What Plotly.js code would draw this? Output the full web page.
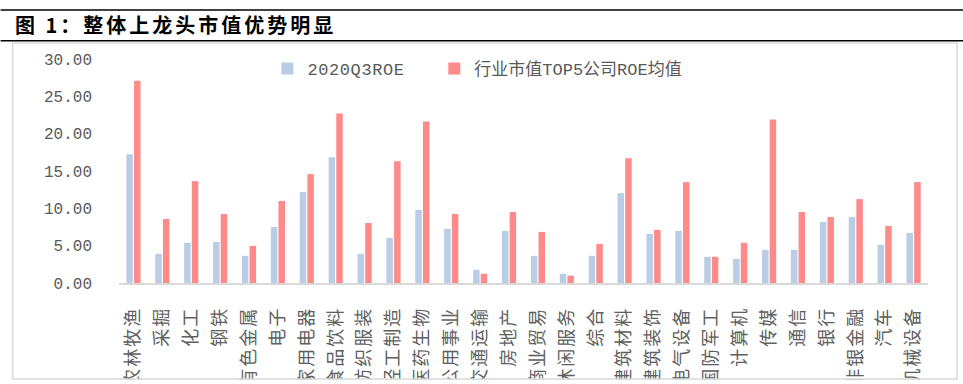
<!DOCTYPE html>
<html>
<head>
<meta charset="utf-8">
<script src="https://cdn.plot.ly/plotly-3.0.1.min.js"></script>
<style>
  html, body { margin: 0; padding: 0; background: #fff; }
  #chart { width: 963px; height: 384px; }
  .gtitle { letter-spacing: 3px; }
  .xtick text { letter-spacing: 2px; }
  .legendtext { letter-spacing: 0.6px; }
</style>
</head>
<body>
<div id="chart"></div>
<script>
const categories = ["农林牧渔","采掘","化工","钢铁","有色金属","电子","家用电器","食品饮料","纺织服装","轻工制造","医药生物","公用事业","交通运输","房地产","商业贸易","休闲服务","综合","建筑材料","建筑装饰","电气设备","国防军工","计算机","传媒","通信","银行","非银金融","汽车","机械设备"];
const roe2020Q3 = [17.24,3.91,5.38,5.51,3.64,7.51,12.18,16.84,3.91,6.04,9.78,7.24,1.78,6.98,3.64,1.24,3.64,12.04,6.58,6.98,3.51,3.24,4.44,4.44,8.18,8.84,5.11,6.71];
const top5ROE = [27.10,8.58,13.64,9.24,4.98,10.98,14.58,22.71,8.04,16.31,21.64,9.24,1.24,9.51,6.84,0.98,5.24,16.71,7.11,13.51,3.51,5.38,21.91,9.51,8.84,11.24,7.64,13.51];
const seriesNames = ["2020Q3ROE","行业市值TOP5公司ROE均值"];
const yTicks = [0,5,10,15,20,25,30];

const W = 963, H = 384;
const M = {l:118.5, r:35, t:58.5, b:100.5};
const PW = W - M.l - M.r, PH = H - M.t - M.b;
const px = x => (x - M.l) / PW;
const py = y => (H - M.b - y) / PH;

const labelFont = {family: "Noto Sans CJK SC, sans-serif", size: 18, color: "#606060"};
const numFont = {family: "Liberation Mono, Noto Sans CJK SC, monospace", size: 16, color: "#595959"};
const legFont = {family: "Liberation Mono, Noto Sans CJK SC, monospace", size: 17, color: "#595959"};

const traces = [
  {type:"bar", name: seriesNames[0], x: categories, y: roe2020Q3,
   marker:{color:"#B9CDE5"}, hoverinfo:"x+y", legend: "legend"},
  {type:"bar", name: seriesNames[1], x: categories, y: top5ROE,
   marker:{color:"#FF8A8A"}, hoverinfo:"x+y", legend: "legend2"}
];

const layout = {
  width: W, height: H,
  margin: M,
  paper_bgcolor: "#fff", plot_bgcolor: "#fff",
  barmode: "group", bargap: 0.47, bargroupgap: 0.15,
  showlegend: true,
  title: {
    text: "图 1：整体上龙头市值优势明显",
    xref: "container", yref: "container",
    x: 15/W, xanchor: "left", y: 1 - 25.5/H, yanchor: "middle",
    font: {family: "Noto Sans CJK SC, sans-serif", size: 20, color: "#000", weight: "bold"}
  },
  legend: {
    orientation: "h", xref: "paper", yref: "paper",
    x: px(267), xanchor: "left", y: py(68.5), yanchor: "middle",
    font: legFont, bgcolor: "rgba(0,0,0,0)"
  },
  legend2: {
    orientation: "h", xref: "paper", yref: "paper",
    x: px(434), xanchor: "left", y: py(68.5), yanchor: "middle",
    font: legFont, bgcolor: "rgba(0,0,0,0)"
  },
  xaxis: {
    type: "category",
    tickangle: -90,
    tickfont: labelFont,
    showline: true, linecolor: "#D9D9D9", linewidth: 1.5,
    ticks: "", ticklabelstandoff: 15,
    showgrid: false, zeroline: false, fixedrange: true
  },
  yaxis: {
    range: [0, 30], tickvals: yTicks, tickformat: ".2f",
    tickfont: numFont,
    showline: false, showgrid: false, zeroline: false,
    ticks: "", ticklabelstandoff: 26, fixedrange: true
  },
  shapes: [
    {type:"rect", xref:"paper", yref:"paper", layer:"above",
     x0: px(0), x1: px(W), y0: py(380.5), y1: py(H + 2),
     fillcolor:"#fff", line:{width:0}},
    {type:"rect", xref:"paper", yref:"paper", layer:"above",
     x0: px(12), x1: px(957), y0: py(42.5), y1: py(380),
     fillcolor:"rgba(0,0,0,0)", line:{color:"#D9D9D9", width:1.5}},
    {type:"line", xref:"paper", yref:"paper", layer:"above",
     x0: px(0), x1: px(W), y0: py(9.3), y1: py(9.3),
     line:{color:"#000", width:1.4}},
    {type:"line", xref:"paper", yref:"paper", layer:"above",
     x0: px(0), x1: px(W), y0: py(40.2), y1: py(40.2),
     line:{color:"#000", width:1.4}}
  ]
};

Plotly.newPlot("chart", traces, layout, {displayModeBar: false, staticPlot: true});
</script>
</body>
</html>
